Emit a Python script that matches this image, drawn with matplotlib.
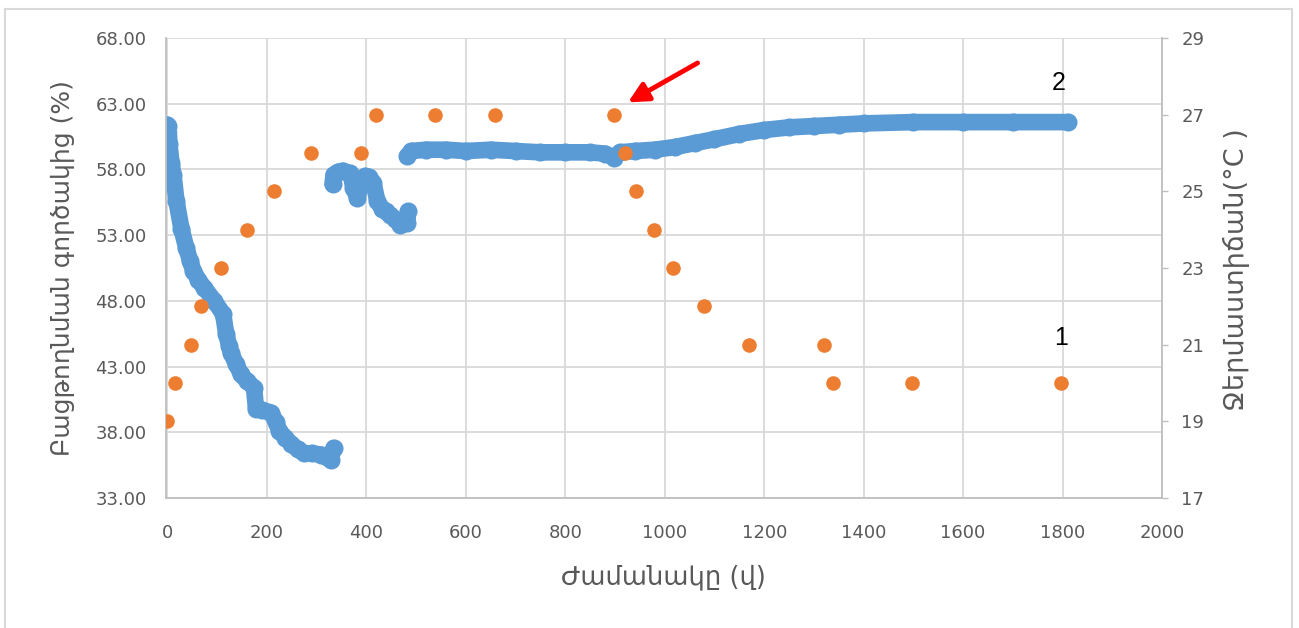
import matplotlib.pyplot as plt
from matplotlib.lines import Line2D

# blue series (left axis), three separate segments
blue_x1 = [0, 2, 4, 8, 12, 18, 28, 38, 46, 52, 62, 74, 94, 112, 118, 124, 128, 138, 148, 160, 174, 178, 190,
           208, 218, 225, 237, 249, 262, 275, 290, 309, 320, 328, 334]
blue_y1 = [61.4, 61.3, 59.9, 58.5, 57.6, 55.6, 53.5, 52.0, 51.0, 50.3, 49.6, 49.0, 48.0, 47.0, 45.5, 44.6, 44.0,
           43.2, 42.4, 41.9, 41.4, 39.8, 39.7, 39.5, 38.8, 38.1, 37.6, 37.1, 36.7, 36.4, 36.4, 36.3, 36.1, 35.9, 36.8]

blue_x2 = [332, 334, 342, 352, 368, 374, 382, 388, 398, 406, 414, 422, 432, 440, 448, 458, 468, 476, 482, 484]
blue_y2 = [56.9, 57.6, 57.8, 57.9, 57.7, 56.6, 55.8, 56.9, 57.5, 57.4, 57.0, 55.6, 55.0, 54.8, 54.5, 54.2, 53.8,
           53.9, 53.9, 54.8]

blue_x3 = [482, 490, 520, 560, 600, 650, 700, 750, 800, 850, 880, 898, 910, 940, 980, 1020, 1060, 1100,
           1150, 1200, 1250, 1300, 1350, 1400, 1500, 1600, 1700, 1810]
blue_y3 = [59.0, 59.4, 59.5, 59.5, 59.4, 59.5, 59.4, 59.3, 59.3, 59.3, 59.2, 58.9, 59.3, 59.4, 59.5, 59.7,
           60.0, 60.3, 60.7, 61.0, 61.2, 61.3, 61.4, 61.5, 61.6, 61.6, 61.6, 61.6]

# orange series (right axis, temperature)
temp_x = [0, 15, 48, 68, 108, 160, 214, 288, 390, 420, 538, 659, 898, 920, 943, 978, 1016, 1078, 1169,
          1320, 1338, 1498, 1797]
temp_y = [19, 20, 21, 22, 23, 24, 25, 26, 26, 27, 27, 27, 27, 26, 25, 24, 23, 22, 21, 21, 20, 20, 20]

left_ticks = [33, 38, 43, 48, 53, 58, 63, 68]
right_ticks = [17, 19, 21, 23, 25, 27, 29]
x_ticks = list(range(0, 2001, 200))

BLUE = "#5B9BD5"
ORANGE = "#ED7D31"
GRID = "#D9D9D9"
AXIS = "#BFBFBF"
TXT = "#595959"

plt.rcParams["font.family"] = ["DejaVu Sans"]

W, H = 1299, 628
fig = plt.figure(figsize=(W / 100, H / 100), dpi=100)
ax = fig.add_axes([166 / W, 1 - 498 / H, 996 / W, 460 / H])
ax2 = ax.twinx()

for bx, by in [(blue_x1, blue_y1), (blue_x2, blue_y2), (blue_x3, blue_y3)]:
    ax.plot(bx, by, "-o", color=BLUE, lw=12, ms=13, solid_capstyle="round", solid_joinstyle="round",
            markeredgewidth=0)

ax2.plot(temp_x, temp_y, "o", color=ORANGE, ms=10.5, markeredgewidth=0, ls="none")

ax.set_xlim(-3, 2000)
ax.set_ylim(33, 68)
ax2.set_ylim(17, 29)
ax.set_xticks(x_ticks)
ax.set_yticks(left_ticks)
ax.set_yticklabels([f"{v:.2f}" for v in left_ticks])
ax2.set_yticks(right_ticks)

ax.grid(True, color=GRID, lw=1.3)
ax.set_axisbelow(True)
for s in ["top", "right"]:
    ax.spines[s].set_visible(False)
for s in ["left", "bottom"]:
    ax.spines[s].set_color(AXIS)
    ax.spines[s].set_linewidth(1.3)
for s in ["top", "left", "bottom"]:
    ax2.spines[s].set_visible(False)
ax2.spines["right"].set_color(AXIS)
ax2.spines["right"].set_linewidth(1.3)

ax.tick_params(axis="y", length=0, pad=14, labelsize=13, labelcolor=TXT)
ax.tick_params(axis="x", length=0, pad=19, labelsize=13, labelcolor=TXT)
ax2.tick_params(axis="y", length=4, width=1, color=AXIS, direction="out", pad=10, labelsize=13,
                labelcolor=TXT)

fig.text(663 / W, 1 - 577 / H, "Ժամանակը (վ)", ha="center", va="center", fontsize=18.5, color=TXT)
fig.text(63 / W, 1 - 268 / H, "Բացթողնման գործակից (%)", ha="center", va="center", rotation=90,
         fontsize=18, color=TXT)
fig.text(1237 / W, 1 - 270 / H, "Ջերմաստիճան(°C )", ha="center", va="center", rotation=90,
         fontsize=19.5, color=TXT)

# curve numbers and arrow
ax.text(1793, 64.6, "2", ha="center", va="center", fontsize=18, color="black", family="Liberation Sans")
ax2.text(1797, 21.17, "1", ha="center", va="center", fontsize=18, color="black", family="Liberation Sans")
ax.annotate("", xy=(926, 63.1), xytext=(1066, 66.1),
            arrowprops=dict(arrowstyle="-|>,head_length=1.2,head_width=0.6", color="red", lw=3.5,
                            shrinkA=0, shrinkB=0))

# outer chart border
for xs, ys in [([5, 5], [H, 9]), ([5, 1292], [9, 9]), ([1292, 1292], [9, H])]:
    fig.add_artist(Line2D([x / W for x in xs], [1 - y / H for y in ys], color=GRID, lw=1.5))

fig.savefig("out.png", dpi=100)
